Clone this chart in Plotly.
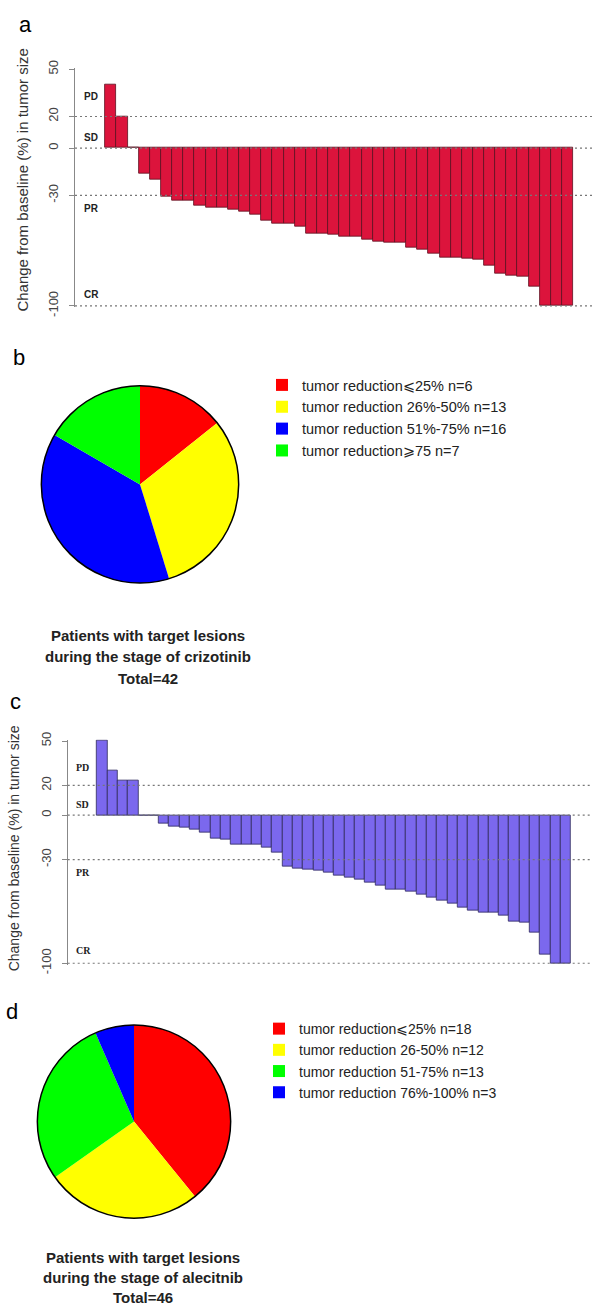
import plotly.graph_objects as go

# ---------------- data ----------------
# Panel a: crizotinib waterfall (change from baseline, %)
a_vals = [40, 20, 0, -16, -20, -31, -33, -33, -36.5, -37.5, -37.5, -39, -40, -42,
          -46, -48, -48, -50, -54, -54.5, -55, -56, -56, -58, -59.5, -60, -60,
          -63, -64.5, -67, -69.5, -69.5, -70, -70.5, -74.5, -79.5, -80.5, -81.5,
          -87.5, -100, -100, -100]
# Panel c: alectinib waterfall
c_vals = [50, 30, 23.5, 23.5, 0, 0, -6, -7.5, -8.5, -9.5, -12, -15.5, -16.5, -20,
          -20, -20, -22, -25, -34.5, -36, -37, -37.5, -38.5, -40.5, -42, -43.5,
          -45.5, -47.5, -50.5, -50.5, -51.5, -53.5, -55.5, -57.5, -59.5, -62.5,
          -64.5, -65.5, -66, -67.5, -72, -72.5, -79, -94, -100, -100]

ref_levels = [20, 0, -30, -100]
ref_labels = ["PD", "SD", "PR", "CR"]
ref_label_a = [32.5, 7, -38, -93]
ref_label_c = [32, 7, -39, -91.5]
y_ticks = [50, 20, 0, -30, -100]

# Panel b pie
b_labels = ["tumor reduction\u2a7d25% n=6", "tumor reduction 26%-50% n=13",
            "tumor reduction 51%-75% n=16", "tumor reduction\u2a7e75 n=7"]
b_counts = [6, 13, 16, 7]
b_colors = ["#FF0000", "#FFFF00", "#0000FF", "#00FF00"]
b_title = ["Patients with target lesions", "during the stage of crizotinib", "Total=42"]

# Panel d pie
d_labels = ["tumor reduction\u2a7d25% n=18", "tumor reduction 26-50% n=12",
            "tumor reduction 51-75% n=13", "tumor reduction 76%-100% n=3"]
d_counts = [18, 12, 13, 3]
d_colors = ["#FF0000", "#FFFF00", "#00FF00", "#0000FF"]
d_title = ["Patients with target lesions", "during the stage of alecitnib", "Total=46"]

# ---------------- layout helpers ----------------
W, H = 592, 1314
def px(x):
    return x / W
def py(y):
    return 1 - y / H

SANS = "Liberation Sans, Arial, DejaVu Sans, sans-serif"
SERIF = "Liberation Serif, Times New Roman, serif"

fig = go.Figure()

fig.add_trace(go.Bar(
    x=list(range(len(a_vals))), y=a_vals, width=1,
    marker=dict(color="#DC143C", line=dict(color="#5a1020", width=0.8)),
    xaxis="x", yaxis="y", showlegend=False))

fig.add_trace(go.Bar(
    x=list(range(len(c_vals))), y=c_vals, width=1,
    marker=dict(color="#7B68EE", line=dict(color="#2e2a5a", width=0.8)),
    xaxis="x2", yaxis="y2", showlegend=False))

b_dom = dict(x=[px(40), px(240)], y=[py(583), py(383)])
d_dom = dict(x=[px(37), px(231)], y=[py(1227), py(1031)])

fig.add_trace(go.Pie(values=b_counts, labels=b_labels, marker=dict(colors=b_colors),
                     sort=False, direction="clockwise", textinfo="none",
                     domain=b_dom, legend="legend"))
fig.add_trace(go.Pie(values=[1], labels=["b-outline"],
                     marker=dict(colors=["rgba(0,0,0,0)"], line=dict(color="black", width=1.5)),
                     textinfo="none", showlegend=False, hoverinfo="skip", domain=b_dom))
fig.add_trace(go.Pie(values=d_counts, labels=d_labels, marker=dict(colors=d_colors),
                     sort=False, direction="clockwise", textinfo="none",
                     domain=d_dom, legend="legend2"))
fig.add_trace(go.Pie(values=[1], labels=["d-outline"],
                     marker=dict(colors=["rgba(0,0,0,0)"], line=dict(color="black", width=1.5)),
                     textinfo="none", showlegend=False, hoverinfo="skip", domain=d_dom))

yaxis_common = dict(range=[-101, 51], tickvals=y_ticks, ticktext=[str(v) for v in y_ticks],
                    tickangle=-90, showline=True, linecolor="#888", linewidth=1,
                    ticks="outside", ticklen=5, tickcolor="#888", showgrid=False,
                    zeroline=False, tickfont=dict(size=13, color="#444", family=SANS),
                    ticklabelstandoff=6)

# panel a geometry: axis at x=75, bars from 105.3 with width 11.14
a_w = 11.14
a_x0 = (75 - 105.3) / a_w - 0.5
a_x1 = a_x0 + (592 - 75) / a_w
c_w = 10.304
c_x0 = (67.7 - 97) / c_w - 0.5
c_x1 = c_x0 + (592 - 67.7) / c_w

fig.update_layout(
    width=W, height=H, margin=dict(l=0, r=0, t=0, b=0),
    paper_bgcolor="white", plot_bgcolor="white", bargap=0,
    xaxis=dict(domain=[px(75), 1], range=[a_x0, a_x1], visible=False),
    yaxis=dict(domain=[py(303.6), py(60.4)], anchor="x", **yaxis_common),
    xaxis2=dict(domain=[px(67.7), 1], range=[c_x0, c_x1], visible=False),
    yaxis2=dict(domain=[py(970.0), py(741.7)], anchor="x2", **yaxis_common),
    legend=dict(x=px(262), y=py(366), xanchor="left", yanchor="top",
                font=dict(size=14.5, family=SANS, color="#222"),
                bgcolor="rgba(0,0,0,0)", tracegroupgap=0),
    legend2=dict(x=px(259), y=py(1019), xanchor="left", yanchor="top",
                 font=dict(size=14, family=SANS, color="#222"),
                 bgcolor="rgba(0,0,0,0)", tracegroupgap=0),
)

shapes = []
for xr, yr in (("x domain", "y"), ("x2 domain", "y2")):
    for lv in ref_levels:
        shapes.append(dict(type="line", xref=xr, yref=yr, x0=0, x1=1, y0=lv, y1=lv,
                           line=dict(color="#777", width=1.2, dash="2px,3px"), layer="above"))
fig.update_layout(shapes=shapes)

ann = []
for lab, yv in zip(ref_labels, ref_label_a):
    ann.append(dict(text="<b>%s</b>" % lab, xref="paper", yref="y", x=px(82), y=yv,
                    xanchor="left", yanchor="middle", showarrow=False,
                    font=dict(size=10, family=SANS, color="#222")))
for lab, yv in zip(ref_labels, ref_label_c):
    ann.append(dict(text="<b>%s</b>" % lab, xref="paper", yref="y2", x=px(74), y=yv,
                    xanchor="left", yanchor="middle", showarrow=False,
                    font=dict(size=10, family=SERIF, color="#222")))
# y axis titles
ann.append(dict(text="Change from baseline (%) in tumor size", xref="paper", yref="paper",
                x=px(23), y=py(175), textangle=-90, showarrow=False,
                xanchor="center", yanchor="middle", font=dict(size=15, family=SANS, color="#333")))
ann.append(dict(text="Change from baseline (%) in tumor size", xref="paper", yref="paper",
                x=px(14), y=py(852), textangle=-90, showarrow=False,
                xanchor="center", yanchor="middle", font=dict(size=14, family=SANS, color="#333")))
# panel letters
for letter, lx, ly in (("a", 25, 17), ("b", 19, 354), ("c", 15, 703), ("d", 12, 1017)):
    ann.append(dict(text=letter, xref="paper", yref="paper", x=px(lx), y=py(ly),
                    showarrow=False, xanchor="center", yanchor="middle",
                    font=dict(size=22, family=SANS, color="black")))
# pie titles
for lines, cx, ys in ((b_title, 148, (636, 658, 680)), (d_title, 143, (1267, 1287, 1307))):
    for t, yy in zip(lines, ys):
        ann.append(dict(text="<b>%s</b>" % t, xref="paper", yref="paper", x=px(cx), y=py(yy),
                        showarrow=False, xanchor="center", yanchor="middle",
                        font=dict(size=15, family=SANS, color="#222")))
fig.update_layout(annotations=ann)

fig.write_html("out.html", config={"displayModeBar": False},
               post_script="document.body.style.margin='0';")
